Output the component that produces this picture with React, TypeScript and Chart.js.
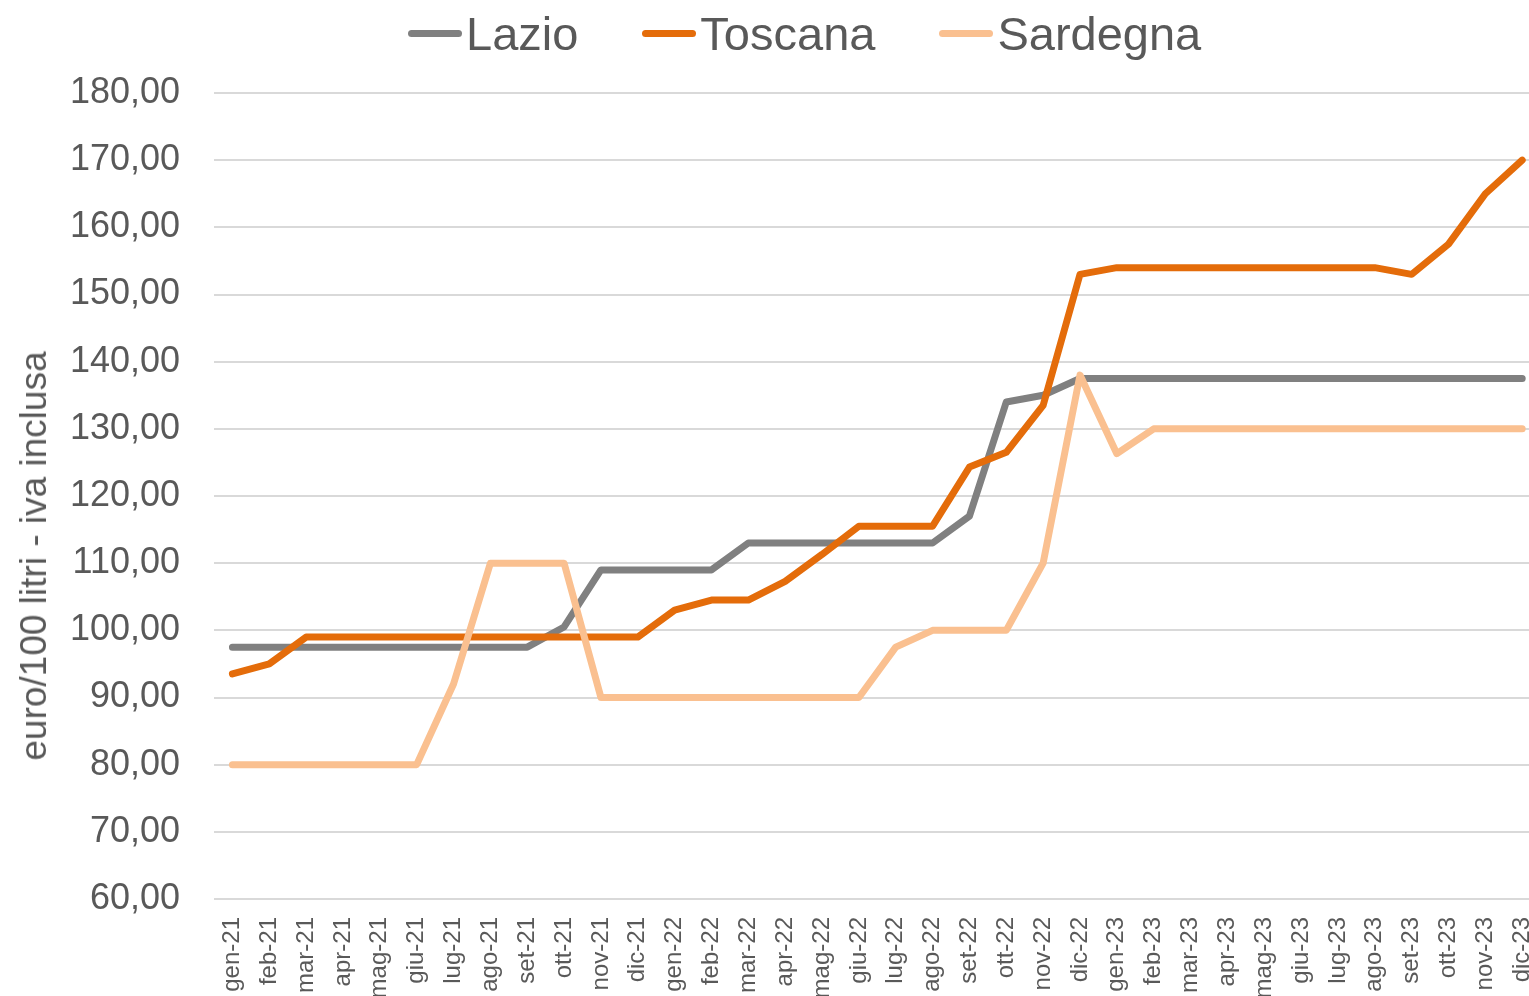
import React, { useEffect, useRef } from "react";
import { Chart, registerables } from "chart.js";

Chart.register(...registerables);

const months = [
  "gen-21","feb-21","mar-21","apr-21","mag-21","giu-21","lug-21","ago-21","set-21","ott-21","nov-21","dic-21",
  "gen-22","feb-22","mar-22","apr-22","mag-22","giu-22","lug-22","ago-22","set-22","ott-22","nov-22","dic-22",
  "gen-23","feb-23","mar-23","apr-23","mag-23","giu-23","lug-23","ago-23","set-23","ott-23","nov-23","dic-23",
];

const lazio = [
  97.5, 97.5, 97.5, 97.5, 97.5, 97.5, 97.5, 97.5, 97.5, 100.5, 109, 109,
  109, 109, 113, 113, 113, 113, 113, 113, 117, 134, 135, 137.5,
  137.5, 137.5, 137.5, 137.5, 137.5, 137.5, 137.5, 137.5, 137.5, 137.5, 137.5, 137.5,
];

const toscana = [
  93.5, 95, 99, 99, 99, 99, 99, 99, 99, 99, 99, 99,
  103, 104.5, 104.5, 107.3, 111.3, 115.5, 115.5, 115.5, 124.3, 126.5, 133.5, 153,
  154, 154, 154, 154, 154, 154, 154, 154, 153, 157.5, 165, 170,
];

const sardegna = [
  80, 80, 80, 80, 80, 80, 92, 110, 110, 110, 90, 90,
  90, 90, 90, 90, 90, 90, 97.5, 100, 100, 100, 110, 138,
  126.3, 130, 130, 130, 130, 130, 130, 130, 130, 130, 130, 130,
];

const seriesNames = ["Lazio", "Toscana", "Sardegna"];
const seriesColors = ["#808080", "#E46C0A", "#FAC090"];

const yMin = 60;
const yMax = 180;
const yStep = 10;
const yTitle = "euro/100 litri - iva inclusa";

const FONT = "'Liberation Sans', Arial, sans-serif";
const TEXT = "#595959";

export default function App() {
  const canvasRef = useRef<HTMLCanvasElement | null>(null);

  useEffect(() => {
    if (!canvasRef.current) return;
    const values = [lazio, toscana, sardegna];
    const chart = new Chart(canvasRef.current, {
      type: "line",
      data: {
        labels: months,
        datasets: seriesNames.map((name, i) => ({
          label: name,
          data: values[i],
          borderColor: seriesColors[i],
          backgroundColor: seriesColors[i],
          borderWidth: 7,
          pointRadius: 0,
          tension: 0,
          borderJoinStyle: "round" as const,
          borderCapStyle: "round" as const,
          order: 2 - i,
        })),
      },
      options: {
        animation: false,
        responsive: true,
        maintainAspectRatio: false,
        layout: { padding: { top: 93, right: 0, bottom: 0, left: 0 } },
        plugins: {
          legend: { display: false },
          tooltip: { enabled: false },
        },
        scales: {
          x: {
            offset: true,
            grid: { display: false, drawTicks: false },
            border: { display: false },
            ticks: {
              autoSkip: false,
              minRotation: 90,
              maxRotation: 90,
              padding: 18,
              color: TEXT,
              font: { family: FONT, size: 24 },
            },
            afterFit: (scale: any) => {
              scale.height = 97;
            },
          },
          y: {
            min: yMin,
            max: yMax,
            border: { display: false },
            grid: { color: "#D9D9D9", lineWidth: 2, drawTicks: false },
            ticks: {
              stepSize: yStep,
              padding: 34,
              color: TEXT,
              font: { family: FONT, size: 36 },
              callback: (v: any) => Number(v).toFixed(2).replace(".", ","),
            },
            title: { display: false },
            afterFit: (scale: any) => {
              scale.width = 214;
            },
          },
        },
      },
    });
    return () => chart.destroy();
  }, []);

  return (
    <div
      style={{
        position: "fixed",
        left: 0,
        top: 0,
        width: 1529,
        height: 996,
        overflow: "hidden",
        background: "#fff",
      }}
    >
      <div style={{ position: "absolute", left: 0, top: 0, width: 1569, height: 996 }}>
        <canvas ref={canvasRef} />
      </div>
      <div
        style={{
          position: "absolute",
          left: 34,
          top: 556,
          transform: "translate(-50%, -50%) rotate(-90deg)",
          fontFamily: FONT,
          fontSize: 37,
          lineHeight: "44px",
          color: TEXT,
          whiteSpace: "nowrap",
        }}
      >
        {yTitle}
      </div>
      <div
        style={{
          position: "absolute",
          left: 408,
          top: 10,
          display: "flex",
          alignItems: "center",
          fontFamily: FONT,
          fontSize: 47,
          lineHeight: "47px",
          color: TEXT,
          whiteSpace: "nowrap",
        }}
      >
        {seriesNames.map((name, i) => (
          <div
            key={name}
            style={{ display: "flex", alignItems: "center", marginRight: i < seriesNames.length - 1 ? 64 : 0 }}
          >
            <span
              style={{
                display: "inline-block",
                width: 54,
                height: 7,
                borderRadius: 4,
                background: seriesColors[i],
                marginRight: 4,
                marginTop: 0,
              }}
            />
            <span>{name}</span>
          </div>
        ))}
      </div>
    </div>
  );
}
